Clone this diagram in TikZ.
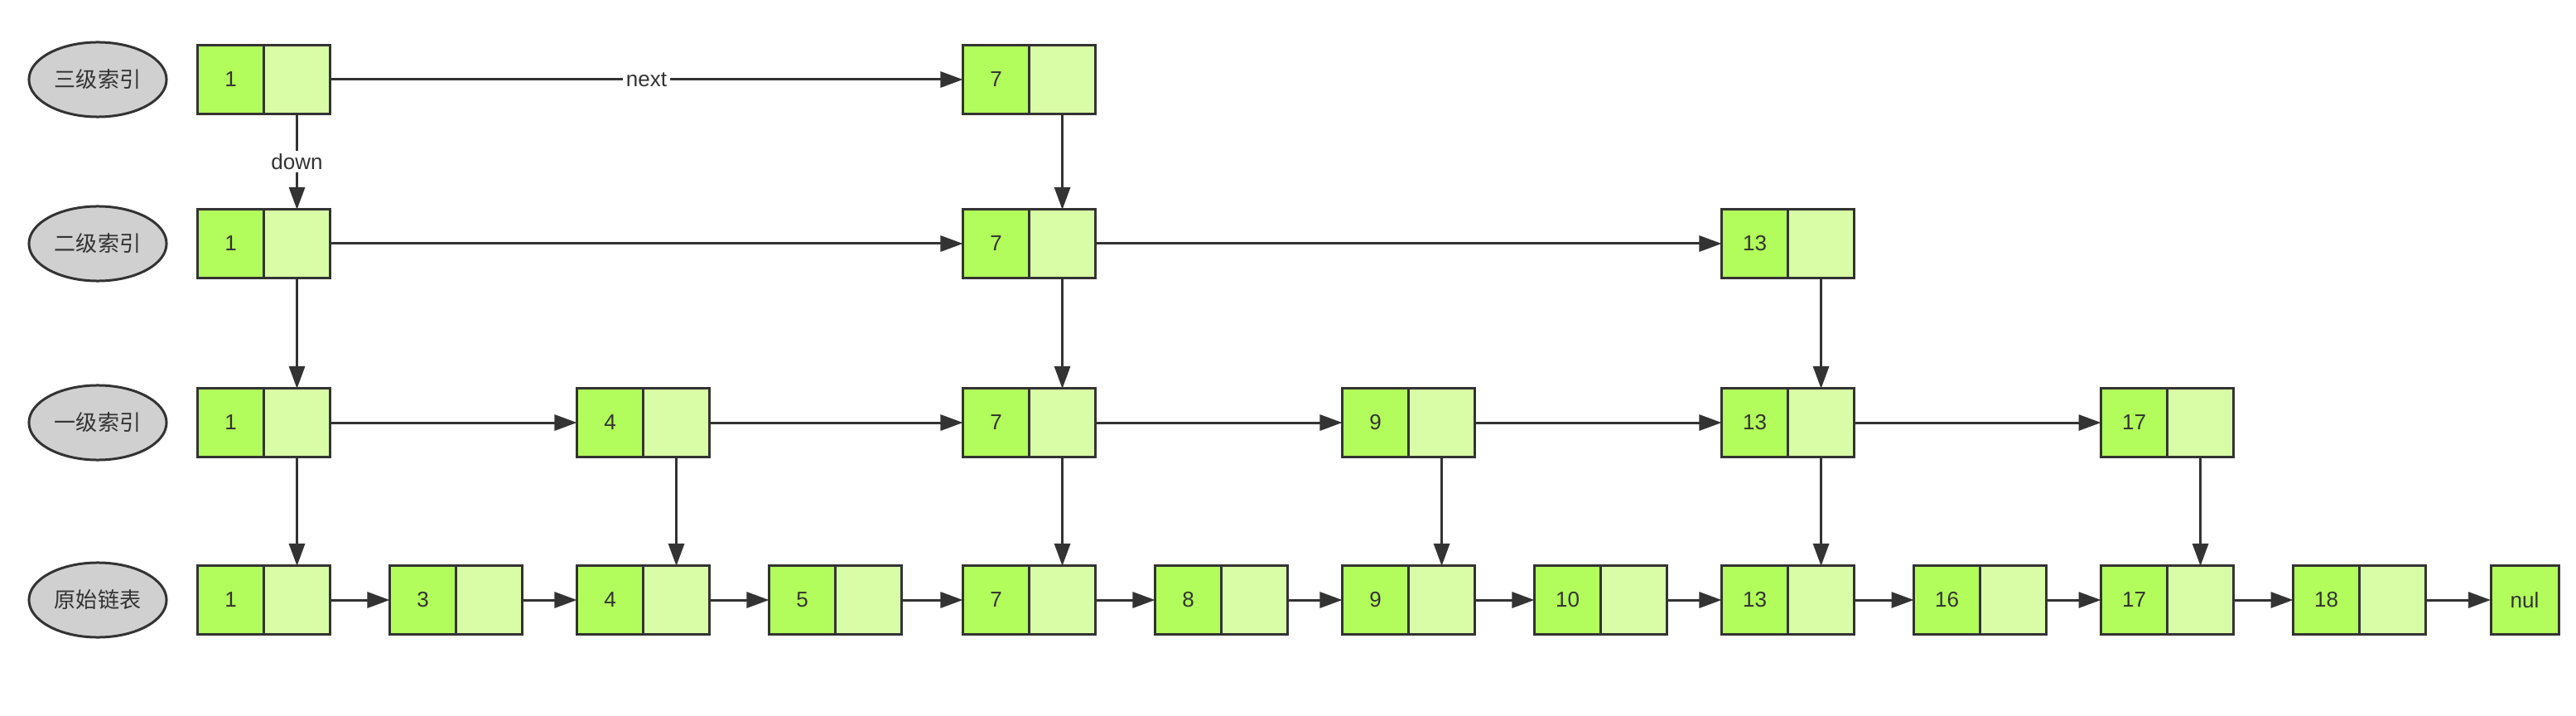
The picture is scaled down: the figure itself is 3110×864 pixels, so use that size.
\documentclass[tikz,border=0pt]{standalone}
\usepackage{fontspec}
\setmainfont{Liberation Sans}
\newfontfamily\cjk{Noto Sans CJK SC}
\usetikzlibrary{arrows.meta,shapes.geometric}
\definecolor{keyfill}{HTML}{B2FC5B}
\definecolor{ptrfill}{HTML}{D9FCA6}
\definecolor{edge}{HTML}{333333}
\definecolor{tagfill}{HTML}{D0D0D0}
% x of the key cell in each column
\def\colx{{278.5,510.5,736.5,968.5,1202.5,1434.5,1660.5,1892.5,2118.5,2350.5,2576.5,2808.5}}

\begin{document}
\begin{tikzpicture}[x=0.01cm, y=-0.01cm,
  cell/.style={draw=edge, line width=0.03cm, outer sep=0pt, inner sep=0pt,
    minimum width=0.8cm, minimum height=0.82cm, text=edge, font=\fontsize{7.4}{9}\selectfont},
  key/.style={cell, fill=keyfill},
  ptr/.style={cell, fill=ptrfill},
  tag/.style={ellipse, draw=edge, fill=tagfill, line width=0.03cm, inner sep=0pt,
    minimum width=1.66cm, minimum height=0.9cm, text=edge, font=\cjk\fontsize{7.4}{9}\selectfont},
  link/.style={draw=edge, line width=0.03cm, -{Triangle[length=0.27cm, width=0.19cm]}},
  lbl/.style={fill=white, inner sep=1pt, text=edge, font=\fontsize{7.4}{9}\selectfont}]
  \useasboundingbox (0,0) rectangle (3110,864);

  % level names
  \foreach \lv/\y/\name in {3/96/三级索引, 2/294/二级索引, 1/510/一级索引, 0/724/原始链表}
    \node[tag] (tag\lv) at (118,\y) {\name};

  % nodes of each level, next arrows and down arrows
  \foreach \lv/\y/\cells in {0/724/{0/1,1/3,2/4,3/5,4/7,5/8,6/9,7/10,8/13,9/16,10/17,11/18},
      1/510/{0/1,2/4,4/7,6/9,8/13,10/17},
      2/294/{0/1,4/7,8/13},
      3/96/{0/1,4/7}}{
    \pgfmathtruncatemacro{\below}{\lv-1}
    \foreach \col/\val [remember=\col as \prev (initially -1)] in \cells {
      \pgfmathsetmacro{\x}{\colx[\col]}
      \node[key] (k\lv-\col) at (\x,\y) {\val};
      \node[ptr] (p\lv-\col) at ([xshift=0.4cm]k\lv-\col.east) {};
      \ifnum\prev<0 \else \draw[link] (p\lv-\prev.east) -- (k\lv-\col.west); \fi
      \ifnum\lv>0 \draw[link] (p\lv-\col.south) -- (p\below-\col.north); \fi
    }
  }

  \node[key, minimum width=0.82cm] (nul) at (3048,724) {nul};
  \draw[link] (p0-11.east) -- (nul.west);

  \path (p3-0.east) -- (k3-4.west) node[lbl, midway] {next};
  \path (p3-0.south) -- (p2-0.north) node[lbl, midway] {down};

\end{tikzpicture}
\end{document}
